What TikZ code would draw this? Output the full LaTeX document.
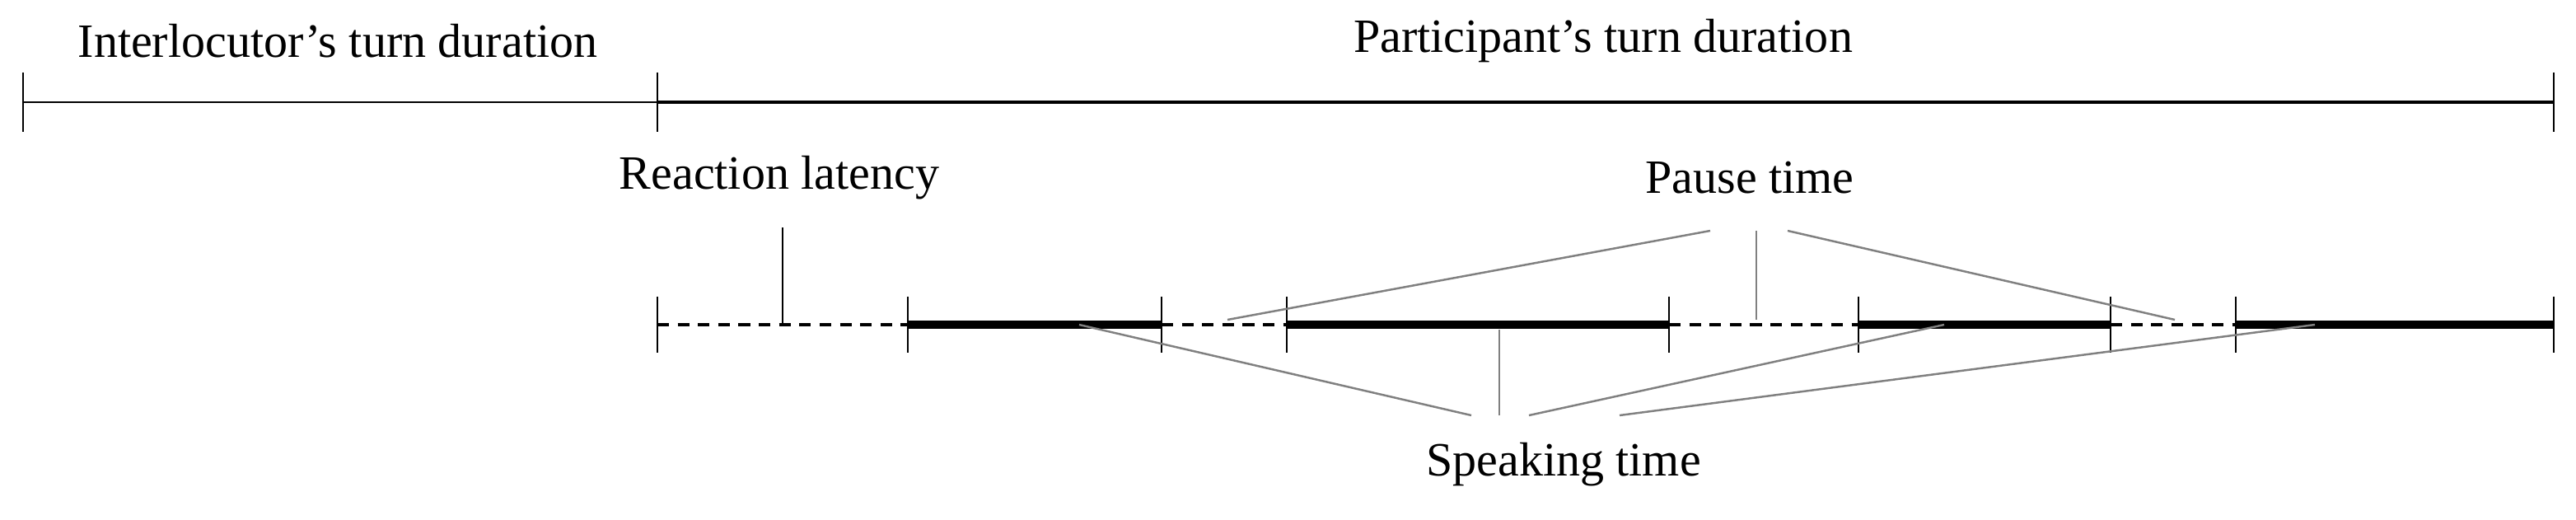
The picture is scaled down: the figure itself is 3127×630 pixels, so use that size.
\documentclass[tikz,border=0pt]{standalone}
\usepackage{fontspec}
\setmainfont{Liberation Serif}
\begin{document}
\begin{tikzpicture}[x=0.01cm,y=-0.01cm,
  lbl/.style={font=\fontsize{16.5}{20}\selectfont, inner sep=0pt},
  tick/.style={line width=0.6pt},
  pauseseg/.style={line width=1.3pt, dash pattern=on 4pt off 3pt},
  speakseg/.style={line width=2.8pt},
  conn/.style={gray, line width=0.7pt}]
\useasboundingbox (0,0) rectangle (3127,630);
% top
\node[lbl] (il) at (410,50) {Interlocutor’s turn duration};
\node[lbl] (pt) at (1946,50) {Participant’s turn duration};
\coordinate (t0) at (28,124); \coordinate (t1) at (798,124); \coordinate (t2) at (3100,124);
\draw[line width=0.6pt] (t0) -- (t1);
\draw[line width=1.3pt] (t1) -- (t2);
\foreach \c in {t0,t1,t2} \draw[tick] ([yshift=0.36cm]\c) -- ([yshift=-0.36cm]\c);
% timeline
\foreach \n/\x in {a/798,b/1102,c/1410,d/1562,e/2026,f/2256,g/2562,h/2714,i/3100}
  \coordinate (\n) at (\x,394);
\draw[pauseseg] (a) -- (b); \draw[pauseseg] (c) -- (d);
\draw[pauseseg] (e) -- (f); \draw[pauseseg] (g) -- (h);
\draw[speakseg] (b) -- (c); \draw[speakseg] (d) -- (e);
\draw[speakseg] (f) -- (g); \draw[speakseg] (h) -- (i);
\foreach \c in {a,b,c,d,e,f,g,h,i} \draw[tick] ([yshift=0.34cm]\c) -- ([yshift=-0.34cm]\c);
% labels
\node[lbl] (rl) at (946,216) {Reaction latency};
\node[lbl] (pa) at (2124,216) {Pause time};
\node[lbl] (sp) at (1898,564) {Speaking time};
\coordinate (rl1) at (950,276); \coordinate (rl2) at (950,394);
\draw[line width=0.6pt] (rl1) -- (rl2);
\coordinate (p1) at (2076,280); \coordinate (p2) at (2132,280); \coordinate (p3) at (2170,280);
\coordinate (q1) at (1490,388); \coordinate (q2) at (2132,388); \coordinate (q3) at (2640,388);
\draw[conn] (p1) -- (q1); \draw[conn] (p2) -- (q2); \draw[conn] (p3) -- (q3);
\coordinate (s1) at (1786,504); \coordinate (s2) at (1820,504); \coordinate (s3) at (1856,504); \coordinate (s4) at (1966,504);
\coordinate (r1) at (1310,394); \coordinate (r2) at (1820,400); \coordinate (r3) at (2360,394); \coordinate (r4) at (2810,394);
\draw[conn] (s1) -- (r1); \draw[conn] (s2) -- (r2); \draw[conn] (s3) -- (r3); \draw[conn] (s4) -- (r4);
\end{tikzpicture}
\end{document}
